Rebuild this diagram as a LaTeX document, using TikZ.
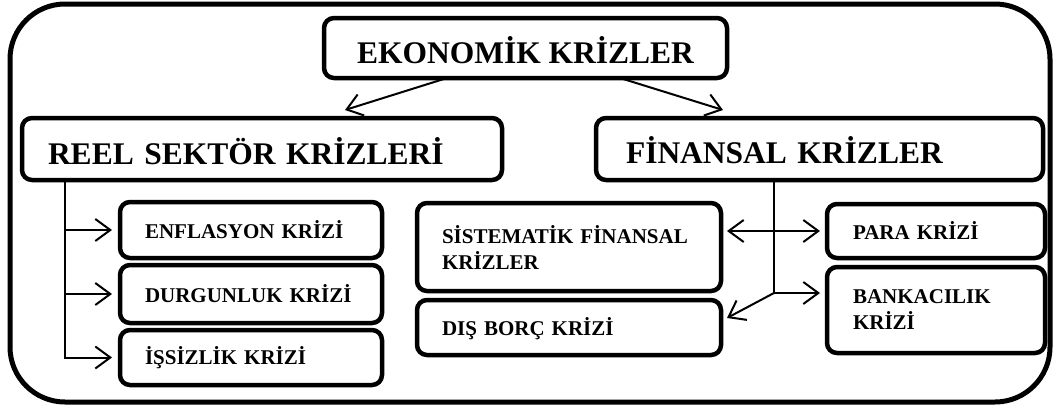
\documentclass[tikz,border=0pt]{standalone}
\usepackage{fontspec}
\setmainfont{Liberation Serif}
\usetikzlibrary{arrows.meta,calc}
\begin{document}
\begin{tikzpicture}[x=1pt,y=-1pt,
  box/.style={draw,line width=4.5pt,rounded corners=10pt,outer sep=0pt,inner ysep=0pt},
  big/.style={font=\fontsize{31.5}{36}\selectfont\bfseries},
  small/.style={font=\fontsize{21}{26}\selectfont\bfseries,align=left},
  conn/.style={line width=2pt},
  arr/.style={conn,-{Straight Barb[length=15pt,width=22pt]}},
  arrboth/.style={conn,{Straight Barb[length=15pt,width=22pt]}-{Straight Barb[length=15pt,width=22pt]}},
]
\useasboundingbox (0,0) rectangle (1055,410);
\draw[line width=5pt,rounded corners=55pt] (10,4) rectangle (1050,402);

\node[box,big,minimum width=403pt,minimum height=60pt,text height=30pt,text depth=0pt] (eko) at (525.5,48) {EKONOMİK KRİZLER};
\node[box,big,minimum width=480pt,minimum height=62pt,text width=428pt,inner xsep=26pt,align=left,text height=31pt,text depth=0pt] (reel) at (262,149) {REEL SEKTÖR KRİZLERİ};
\node[box,big,minimum width=447pt,minimum height=62pt,text width=387pt,inner xsep=30pt,align=left,text height=29pt,text depth=0pt] (fin) at (819.5,149) {FİNANSAL KRİZLER};

\node[box,small,minimum width=262pt,minimum height=56pt,text width=212pt,inner xsep=25pt,text height=16pt,text depth=0pt] (enf) at (251,230) {ENFLASYON KRİZİ};
\node[box,small,minimum width=262pt,minimum height=58pt,text width=212pt,inner xsep=25pt,text height=16pt,text depth=0pt] (dur) at (251,294) {DURGUNLUK KRİZİ};
\node[box,small,minimum width=262pt,minimum height=55pt,text width=212pt,inner xsep=25pt,text height=14pt,text depth=0pt] (iss) at (251,357.5) {İŞSİZLİK KRİZİ};

\node[box,small,minimum width=304pt,minimum height=88pt,text width=254pt,inner xsep=25pt] (sis) at (569,247) {SİSTEMATİK FİNANSAL\\KRİZLER};
\node[box,small,minimum width=304pt,minimum height=55pt,text width=254pt,inner xsep=25pt,text height=16pt,text depth=0pt] (dis) at (569,327.5) {DIŞ BORÇ KRİZİ};
\node[box,small,minimum width=218pt,minimum height=54pt,text width=166pt,inner xsep=26pt,text height=16pt,text depth=0pt] (para) at (936,231) {PARA KRİZİ};
\node[box,small,minimum width=218pt,minimum height=86pt,text width=166pt,inner xsep=26pt] (bank) at (936,310) {BANKACILIK\\KRİZİ};

\draw[arr] ($(eko.south)+(-78.5pt,0)$) -- ($(reel.north)+(83pt,8pt)$);
\draw[arr] ($(eko.south)+(94.5pt,0)$) -- ($(fin.north)+(-96.5pt,8pt)$);

\coordinate (ls) at ($(reel.south)+(-197pt,0)$);
\draw[arr] (ls) |- ($(iss.west)+(-8pt,0)$);
\draw[arr] (ls |- enf.west) -- ($(enf.west)+(-8pt,0)$);
\draw[arr] (ls |- dur.west) -- ($(dur.west)+(-8pt,0)$);

\coordinate (rs) at ($(fin.south)+(-45.5pt,0)$);
\coordinate (rj) at ($(rs |- bank.west)+(0,17pt)$);
\draw[conn] (rs) -- (rj);
\draw[arr] (rj) -- ($(bank.west |- rj)+(-7pt,0)$);
\draw[arr] (rj) -- ($(dis.east)+(6pt,9.5pt)$);
\draw[arrboth] ($(sis.east |- para.west)+(6pt,0)$) -- ($(para.west)+(-7pt,0)$);
\end{tikzpicture}
\end{document}
